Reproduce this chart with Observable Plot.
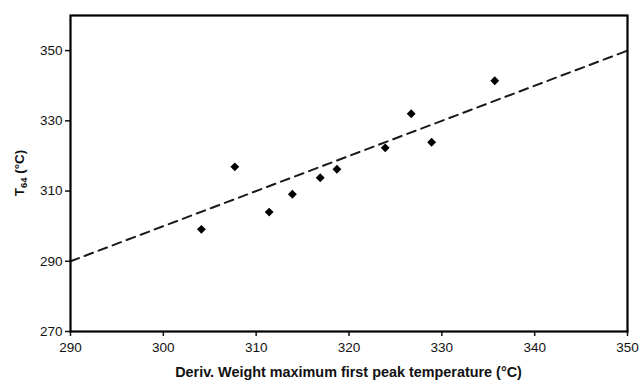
<!DOCTYPE html>
<html>
<head>
<meta charset="utf-8">
<script src="https://cdn.jsdelivr.net/npm/d3@7"></script>
<script src="https://cdn.jsdelivr.net/npm/@observablehq/plot@0.6"></script>
<style>
  html, body { margin: 0; padding: 0; background: #fff; }
  #chart { width: 639px; height: 382px; }
</style>
</head>
<body>
<div id="chart"></div>
<script>
const derivPeak = [304.1, 307.7, 311.4, 313.9, 316.9, 318.7, 323.9, 326.7, 328.9, 335.7];
const t64 = [299.1, 316.9, 304.0, 309.1, 313.8, 316.2, 322.3, 332.0, 323.9, 341.4];
const fitX = [290, 350];
const fitY = [290, 350];
const xTicks = [290, 300, 310, 320, 330, 340, 350];
const yTicks = [270, 290, 310, 330, 350];
const xLabel = "Deriv. Weight maximum first peak temperature (°C)";

const points = derivPeak.map((x, i) => ({x, y: t64[i]}));
const fit = fitX.map((x, i) => ({x, y: fitY[i]}));

const plot = Plot.plot({
  width: 639,
  height: 382,
  marginLeft: 70,
  marginRight: 12,
  marginTop: 15,
  marginBottom: 51,
  style: {fontFamily: "'Liberation Sans', Arial, sans-serif", fontSize: "13.5px", color: "#111", background: "#fff"},
  x: {domain: [290, 350]},
  y: {domain: [270, 360]},
  marks: [
    Plot.line(fit, {x: "x", y: "y", stroke: "#1a1a1a", strokeWidth: 2, strokeDasharray: "9,6"}),
    Plot.dot(points, {x: "x", y: "y", symbol: "diamond2", r: 4, fill: "#000", stroke: "none"}),
    Plot.axisX({ticks: xTicks, tickSize: 5, tickPadding: 6, strokeWidth: 1.5, label: null, tickFormat: d => String(d)}),
    Plot.axisY({ticks: yTicks, tickSize: 5, tickPadding: 3, strokeWidth: 1.5, label: null, tickFormat: d => String(d)}),
    Plot.frame({stroke: "#000", strokeWidth: 2.2})
  ]
});

document.getElementById("chart").appendChild(plot);

const svg = d3.select(plot);
svg.append("text")
  .attr("x", (70 + 627) / 2)
  .attr("y", 377)
  .attr("text-anchor", "middle")
  .attr("font-weight", "bold")
  .attr("font-size", "14.4px")
  .attr("fill", "#111")
  .text(xLabel);

const yl = svg.append("text")
  .attr("transform", "translate(24,173) rotate(-90)")
  .attr("text-anchor", "middle")
  .attr("font-weight", "bold")
  .attr("font-size", "13.5px")
  .attr("fill", "#111");
yl.append("tspan").text("T");
yl.append("tspan").attr("font-size", "9.5px").attr("dy", "3").text("64");
yl.append("tspan").attr("dy", "-3").text(" (°C)");
</script>
</body>
</html>
